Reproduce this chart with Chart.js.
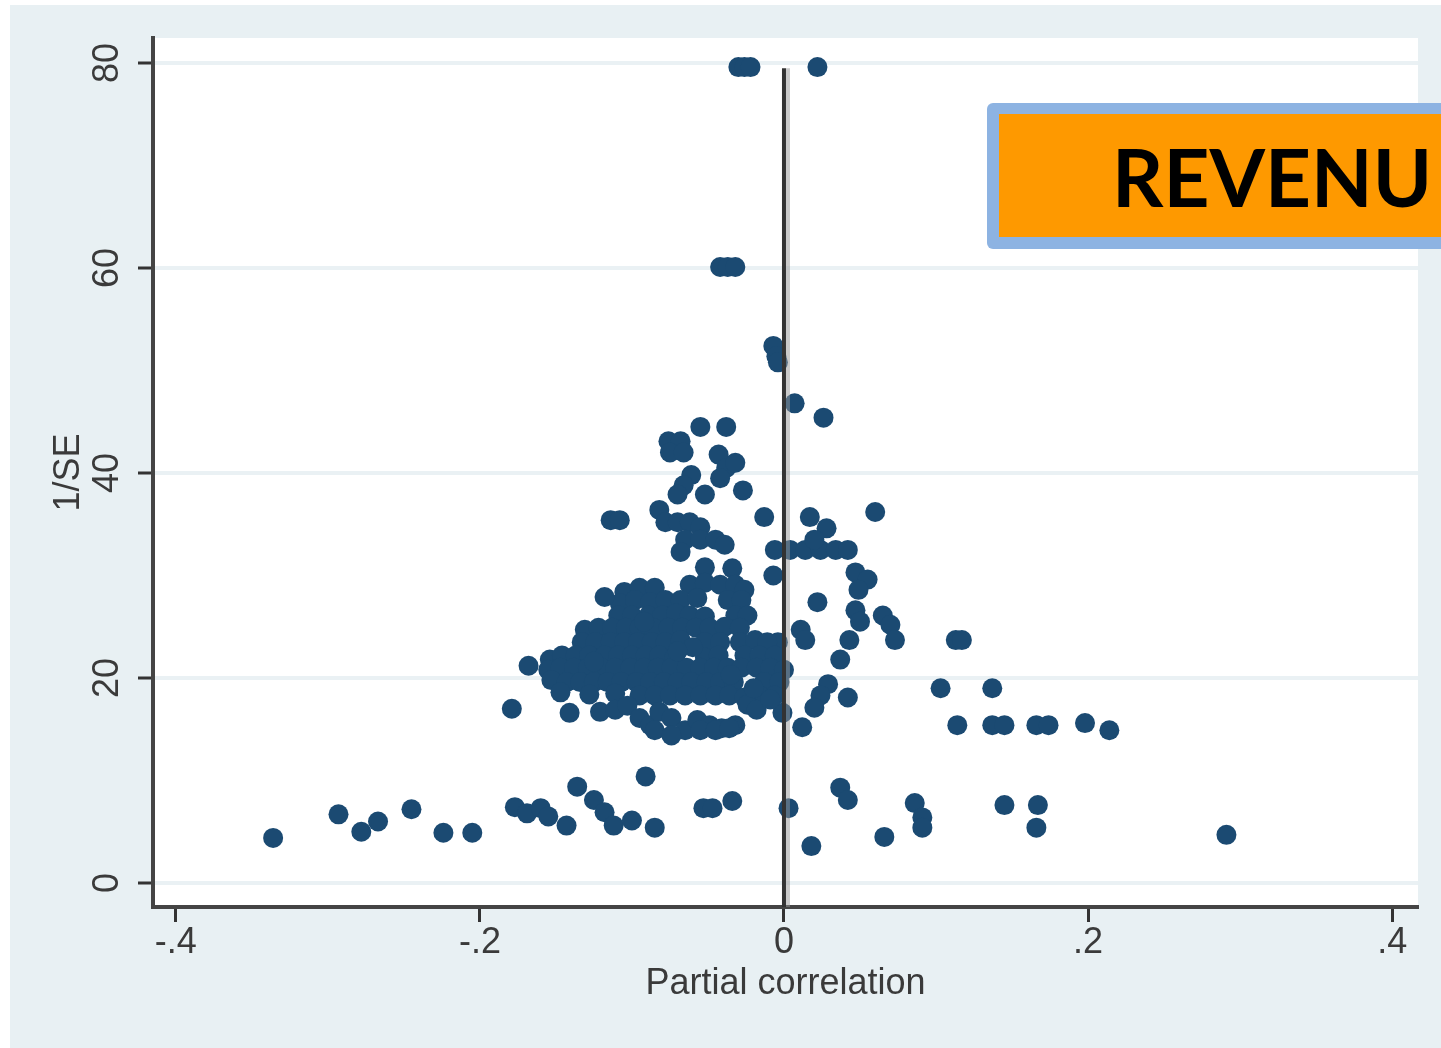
<!DOCTYPE html>
<html>
<head>
<meta charset="utf-8">
<script src="https://cdn.jsdelivr.net/npm/chart.js@4.4.0/dist/chart.umd.min.js"></script>
<style>
  html, body { margin: 0; padding: 0; background: #fff; }
</style>
</head>
<body>
<canvas id="funnel" width="1441" height="1048"></canvas>
<script>
// axis ranges and ticks
const xMin = -0.415, xMax = 0.417;
const yMin = -2.34, yMax = 82.44;
const xTicks = [-0.4, -0.2, 0, 0.2, 0.4];
const xTickLabels = ['-.4', '-.2', '0', '.2', '.4'];
const yTicks = [0, 20, 40, 60, 80];
const yTickLabels = ['0', '20', '40', '60', '80'];
const zeroLineTop = 79.5;

// [partial correlation, 1/SE]
const lowPoints = [
  [-0.336,4.4],[-0.293,6.7],[-0.278,5.0],[-0.267,6.0],[-0.245,7.2],[-0.224,4.9],[-0.205,4.9],
  [-0.177,7.4],[-0.169,6.8],[-0.160,7.3],[-0.155,6.5],[-0.143,5.6],[-0.136,9.4],[-0.125,8.1],
  [-0.118,6.9],[-0.112,5.6],[-0.100,6.1],[-0.085,5.4],[-0.091,10.4],[-0.053,7.3],[-0.047,7.3],
  [-0.034,8.0],[0.003,7.3],[0.018,3.6],[0.037,9.3],[0.042,8.1],[0.066,4.5],[0.086,7.8],
  [0.091,6.4],[0.091,5.4],[0.145,7.6],[0.167,7.6],[0.166,5.4],[0.291,4.7]
];

const rightPoints = [
  [0.114,15.4],[0.137,15.4],[0.145,15.4],[0.166,15.4],[0.174,15.4],[0.198,15.6],[0.214,14.9],
  [0.103,19.0],[0.137,19.0],[0.113,23.7],[0.117,23.7],[0.012,15.2],[0.042,18.1],[0.029,19.4],
  [0.024,18.3],[0.020,17.1],[-0.001,16.6],[0.037,21.8],[0.043,23.7],[0.047,26.6],[0.050,25.5],
  [0.022,27.4],[0.047,30.3],[0.055,29.6],[0.049,28.6],[0.065,26.1],[0.070,25.2],[0.073,23.7],
  [0.011,24.7],[0.014,23.7],[-0.004,23.5],[-0.007,30.0],[0.060,36.2],[0.017,35.7],[0.028,34.6],
  [-0.006,32.5],[0.004,32.5],[0.014,32.5],[0.024,32.5],[0.034,32.5],[0.042,32.5],[0.020,33.5],
  [-0.013,35.7]
];

const upperPoints = [
  [-0.030,79.6],[-0.026,79.6],[-0.022,79.6],[0.022,79.6],[-0.042,60.1],[-0.037,60.1],[-0.032,60.1],
  [-0.007,52.4],[-0.005,51.4],[-0.004,50.8],[0.007,46.8],[0.026,45.4],[-0.055,44.5],[-0.038,44.5],
  [-0.076,43.1],[-0.068,43.1],[-0.075,42.0],[-0.066,42.0],[-0.043,41.8],[-0.038,40.5],[-0.042,39.5],
  [-0.032,41.0],[-0.027,38.3],[-0.052,37.9],[-0.061,39.8],[-0.066,38.8],[-0.070,37.9],[-0.114,35.4],
  [-0.108,35.4],[-0.082,36.4],[-0.078,35.2],[-0.070,35.2],[-0.062,35.2],[-0.055,34.7],[-0.065,33.5],
  [-0.055,33.5],[-0.045,33.5],[-0.039,33.0],[-0.068,32.3],[-0.052,30.8],[-0.034,30.7]
];

const corePoints = [
  [-0.105,28.4],[-0.095,28.8],[-0.085,28.8],[-0.062,29.1],[-0.052,29.3],[-0.042,29.1],[-0.032,29.1],[-0.026,28.6],
  [-0.108,27.3],[-0.098,27.6],[-0.088,27.4],[-0.078,27.6],[-0.068,27.6],[-0.057,27.8],[-0.037,27.6],[-0.028,27.6],
  [-0.109,26.1],[-0.100,26.1],[-0.089,26.1],[-0.080,26.1],[-0.071,26.3],[-0.062,26.1],[-0.052,26.0],[-0.032,26.1],[-0.024,26.1],
  [-0.131,24.7],[-0.122,24.9],[-0.113,24.9],[-0.104,24.9],[-0.095,24.9],[-0.086,24.9],[-0.076,24.9],[-0.067,24.9],
  [-0.058,24.9],[-0.049,24.9],[-0.039,25.0],[-0.029,24.9],
  [-0.133,23.5],[-0.124,23.5],[-0.114,23.5],[-0.105,23.5],[-0.096,23.5],[-0.087,23.5],[-0.078,23.5],[-0.068,23.7],
  [-0.052,23.5],[-0.042,23.5],[-0.029,23.5],[-0.019,23.7],[-0.011,23.5],
  [-0.154,21.8],[-0.146,22.2],[-0.137,22.2],[-0.128,22.2],[-0.118,22.2],[-0.109,22.2],[-0.100,22.2],[-0.091,22.2],
  [-0.082,22.2],[-0.072,22.0],[-0.052,22.0],[-0.043,22.2],[-0.026,22.2],[-0.016,22.2],[-0.006,22.2],
  [-0.155,20.8],[-0.147,21.0],[-0.138,21.0],[-0.129,21.0],[-0.120,21.0],[-0.111,21.0],[-0.101,21.0],[-0.092,21.0],
  [-0.083,21.0],[-0.074,21.0],[-0.064,21.0],[-0.055,21.0],[-0.046,21.0],[-0.037,21.0],[-0.028,21.0],[-0.018,21.0],
  [-0.009,21.0],[0.000,20.8],
  [-0.153,19.8],[-0.143,19.6],[-0.134,19.6],[-0.125,19.6],[-0.116,19.6],[-0.107,19.6],[-0.097,19.6],[-0.088,19.6],
  [-0.079,19.6],[-0.070,19.6],[-0.061,19.6],[-0.051,19.6],[-0.042,19.6],[-0.033,19.6],[-0.013,19.6],[-0.003,19.6],
  [-0.147,18.6],[-0.128,18.4],[-0.111,18.5],[-0.095,18.3],[-0.085,18.3],[-0.075,18.3],[-0.065,18.3],[-0.055,18.3],
  [-0.045,18.3],[-0.036,18.3],[-0.026,18.1],[-0.016,18.3],[-0.006,18.3],
  [-0.121,16.7],[-0.111,16.9],[-0.103,17.3],[-0.095,16.1],[-0.088,15.4],[-0.082,16.7],[-0.074,16.1],[-0.065,14.9],
  [-0.057,15.9],[-0.049,15.4],[-0.041,15.1],[-0.032,15.4],[-0.024,17.4],[-0.018,16.9],[-0.009,17.9],
  [-0.085,14.9],[-0.074,14.4],[-0.055,14.9],[-0.045,14.9],[-0.036,15.1],
  [-0.168,21.2],[-0.179,17.0],[-0.141,16.6],
  [-0.118,27.9],[-0.092,25.5],[-0.060,23.0],[-0.035,20.3],[-0.020,19.0],[-0.125,21.6],[-0.070,22.6]
];

const allPoints = lowPoints.concat(rightPoints, upperPoints, corePoints)
  .map(p => ({ x: p[0], y: p[1] }));

const textColor = '#3a3a3a';
const axisFont = { family: 'Liberation Sans', size: 36 };

// outer grey frame and white plot region
const backdrop = {
  id: 'backdrop',
  beforeDraw(chart) {
    const { ctx, chartArea: a } = chart;
    ctx.save();
    ctx.fillStyle = '#ffffff';
    ctx.fillRect(0, 0, chart.width, chart.height);
    ctx.fillStyle = '#e8f0f3';
    ctx.fillRect(10, 5, chart.width - 10, chart.height - 5);
    ctx.fillStyle = '#ffffff';
    ctx.fillRect(a.left, a.top, a.right - a.left, a.bottom - a.top);
    ctx.restore();
  }
};

// soft grey edge beside the zero line
const lineShadow = {
  id: 'lineShadow',
  beforeDatasetDraw(chart, args) {
    if (args.index !== 1) return;
    chart.ctx.save();
    chart.ctx.shadowColor = 'rgba(150,150,150,0.5)';
    chart.ctx.shadowOffsetX = 4;
  },
  afterDatasetDraw(chart, args) {
    if (args.index !== 1) return;
    chart.ctx.restore();
  }
};

// orange REVENU label in the top right corner
const badge = {
  id: 'badge',
  afterDraw(chart) {
    const ctx = chart.ctx;
    ctx.save();
    ctx.fillStyle = '#8db3e2';
    ctx.beginPath();
    ctx.roundRect(987, 103, 480, 146, 6);
    ctx.fill();
    ctx.fillStyle = '#fe9900';
    ctx.fillRect(999, 114, 460, 123);
    ctx.fillStyle = '#000000';
    ctx.font = 'bold 80px Lato';
    ctx.textBaseline = 'alphabetic';
    ctx.textAlign = 'left';
    ctx.fillText('REVENU', 1112, 207);
    ctx.restore();
  }
};

new Chart(document.getElementById('funnel'), {
  type: 'scatter',
  data: {
    datasets: [
      {
        type: 'scatter',
        data: allPoints,
        pointRadius: 10,
        pointHoverRadius: 10,
        pointBackgroundColor: '#1b4a72',
        pointBorderWidth: 0,
        order: 1
      },
      {
        type: 'line',
        data: [{ x: 0, y: yMin }, { x: 0, y: zeroLineTop }],
        borderColor: '#333333',
        borderWidth: 4,
        pointRadius: 0,
        fill: false,
        order: 0
      }
    ]
  },
  options: {
    responsive: false,
    animation: false,
    layout: { padding: { left: 0, top: 38, right: 23, bottom: 0 } },
    plugins: {
      legend: { display: false },
      tooltip: { enabled: false }
    },
    scales: {
      x: {
        type: 'linear',
        min: xMin,
        max: xMax,
        afterBuildTicks: s => { s.ticks = xTicks.map(v => ({ value: v })); },
        afterFit: s => { s.height = 141; },
        border: { color: '#444444', width: 4 },
        grid: {
          drawOnChartArea: false,
          drawTicks: true,
          tickLength: 15,
          tickWidth: 3,
          tickColor: '#333333'
        },
        ticks: {
          padding: -1,
          font: axisFont,
          color: textColor,
          maxRotation: 0,
          autoSkip: false,
          callback: (v, i) => xTickLabels[i]
        },
        title: {
          display: true,
          text: 'Partial correlation',
          font: axisFont,
          color: textColor,
          padding: { top: 0, bottom: 42 }
        }
      },
      y: {
        type: 'linear',
        min: yMin,
        max: yMax,
        afterBuildTicks: s => { s.ticks = yTicks.map(v => ({ value: v })); },
        afterFit: s => { s.width = 153; },
        border: { color: '#444444', width: 4 },
        grid: {
          color: '#eaf1f4',
          lineWidth: 4,
          drawTicks: true,
          tickLength: 15,
          tickWidth: 3,
          tickColor: '#333333'
        },
        ticks: {
          padding: 10,
          font: axisFont,
          color: textColor,
          minRotation: 90,
          maxRotation: 90,
          crossAlign: 'center',
          autoSkip: false,
          callback: (v, i) => yTickLabels[i]
        },
        title: {
          display: true,
          text: '1/SE',
          font: axisFont,
          color: textColor,
          padding: { top: 47, bottom: 0 }
        }
      }
    }
  },
  plugins: [backdrop, lineShadow, badge]
});
</script>
</body>
</html>
